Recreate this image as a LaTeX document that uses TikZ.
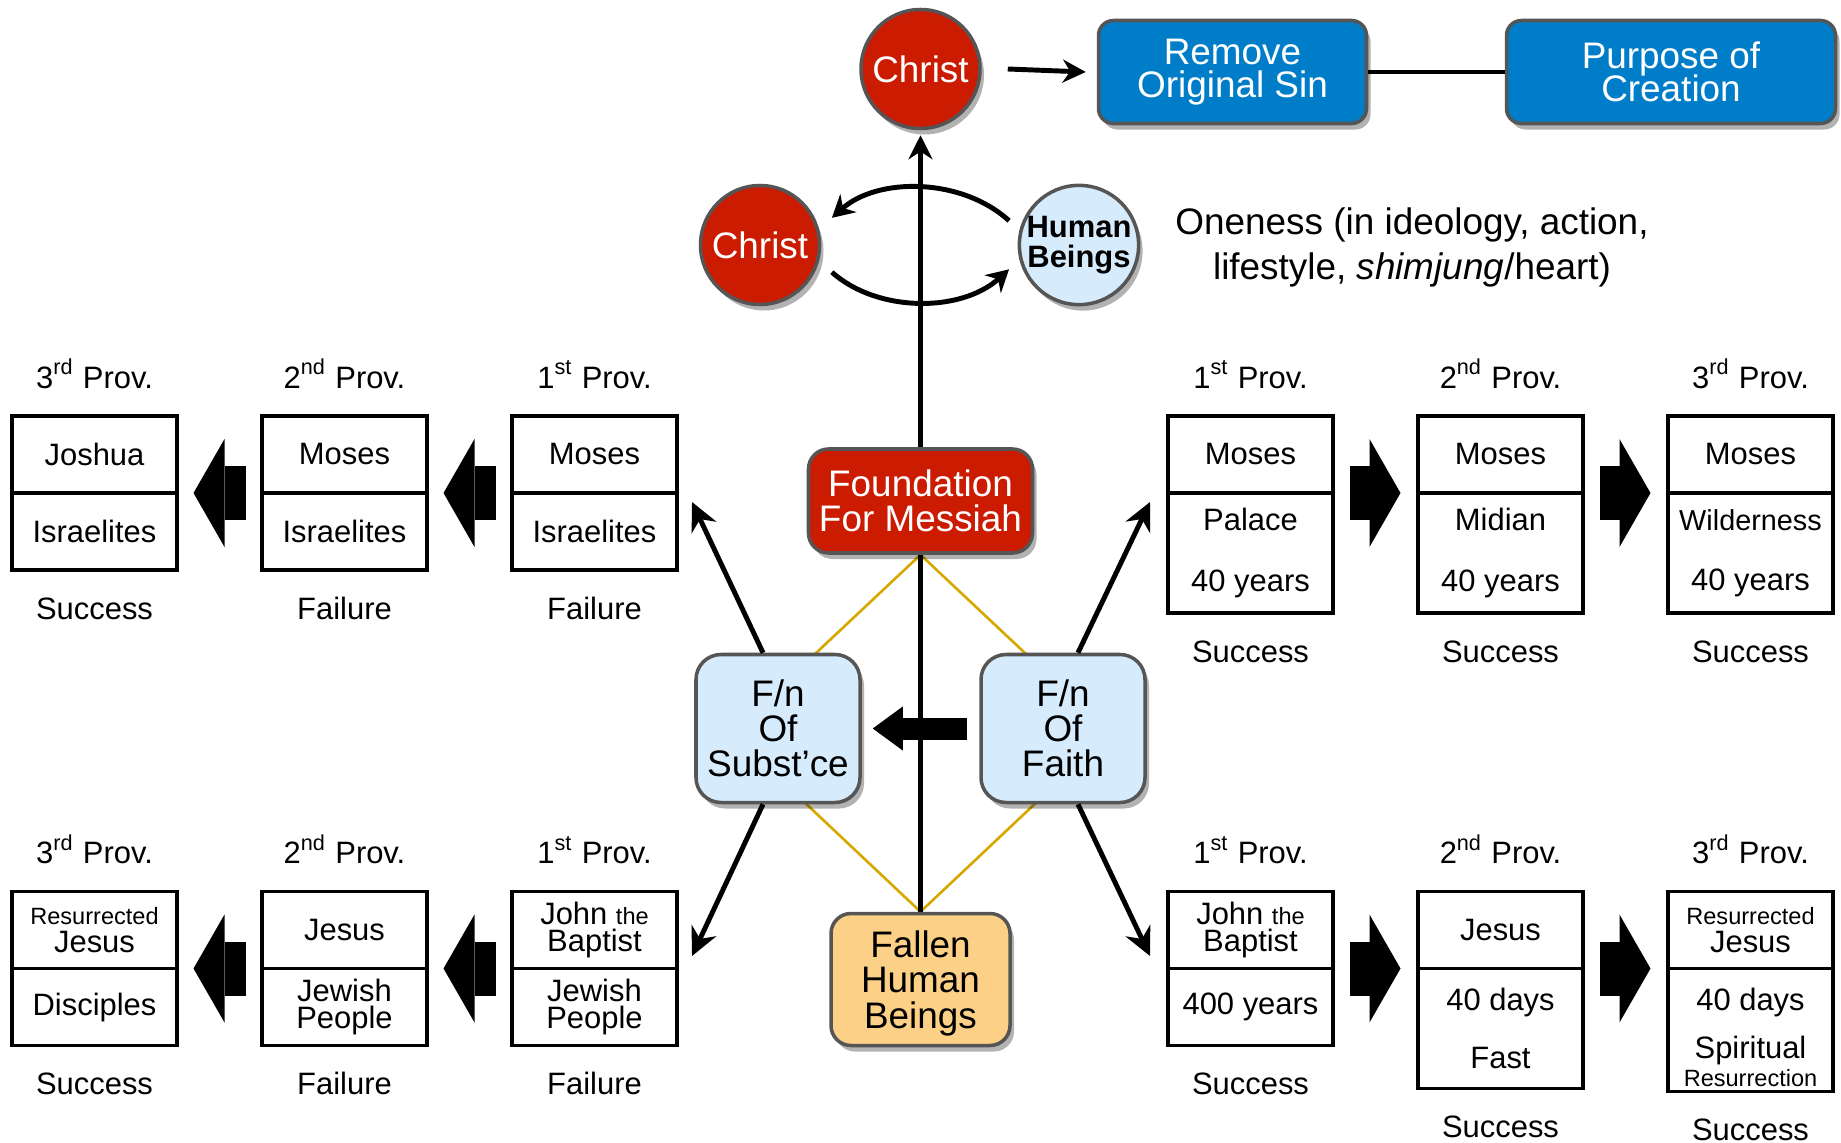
\documentclass[tikz,border=0pt]{standalone}
\usepackage{fontspec}
\setmainfont{Liberation Sans}
\usepackage{xcolor}
\usepackage{tikz}
\usetikzlibrary{shapes,arrows.meta,positioning,shadows,backgrounds}
\definecolor{fnred}{RGB}{203,27,0}
\definecolor{fnblue}{RGB}{0,125,201}
\definecolor{fnsky}{RGB}{214,235,251}
\definecolor{fnorange}{RGB}{253,208,136}
\definecolor{fnedge}{RGB}{85,85,85}
\definecolor{fngold}{RGB}{214,168,0}
\newcommand{\pfont}{\fontsize{8.8}{7.8}\selectfont\lineskiplimit=-20pt\relax}
\newcommand{\sfont}{\fontsize{6.7}{7.8}\selectfont}
\newcommand{\cfont}{\fontsize{10.5}{10}\selectfont\lineskiplimit=-20pt\relax}
\newcommand{\tfont}{\fontsize{10.5}{9.4}\selectfont\lineskiplimit=-20pt\relax}
\newcommand{\hfont}{\fontsize{8.8}{8.5}\selectfont\bfseries\lineskiplimit=-20pt\relax}
\newcommand{\ofont}{\fontsize{10.5}{12.8}\selectfont\lineskiplimit=-20pt\relax}
\tikzset{
    lift/.style={drop shadow={shadow xshift=0.4mm, shadow yshift=-0.6mm, opacity=0.3, fill=black}},
    cell/.style={rectangle, draw, line width=1.1pt, minimum width=1.65cm, minimum height=0.77cm, inner sep=0pt, outer sep=0pt, align=center, font=\pfont},
    tall/.style={cell, minimum height=1.20cm},
    lbl/.style={inner sep=0pt, anchor=base, font=\pfont},
    ball/.style={circle, draw=fnedge, line width=1pt, fill=fnred, text=white, minimum size=1.19cm, inner sep=0pt, align=center, font=\cfont, lift},
    pill/.style={rectangle, rounded corners=2mm, draw=fnedge, line width=1pt, inner sep=0pt, align=center, font=\cfont, lift},
    line/.style={draw, line width=1.4pt, -{Stealth[length=2.8mm, width=2.7mm]}},
    curve/.style={draw, line width=1.4pt, -{Stealth[length=2.2mm, width=2.4mm]}},
    fat/.style={line width=5.4mm, -{Triangle[length=3.1mm, width=10.8mm, line width=0pt]}},
    fatc/.style={line width=2.2mm, -{Triangle[length=3mm, width=4.4mm, line width=0pt]}}
}
\begin{document}
\begin{tikzpicture}[node distance=2.5cm]
    \useasboundingbox (0,0) rectangle (18.41,-11.43);

    \node[ball] (christ) at (9.205,-0.69) {Christ};
    \node[pill, fill=fnblue, text=white, font=\tfont, rounded corners=1.5mm, minimum width=2.68cm, minimum height=1.03cm] (remove) at (12.325,-0.72) {Remove\\Original Sin};
    \node[pill, fill=fnblue, text=white, font=\tfont, rounded corners=1.5mm, minimum width=3.29cm, minimum height=1.03cm] (purpose) at (16.71,-0.72) {Purpose of\\Creation};

    \node[ball] (christB) at (7.60,-2.45) {Christ};
    \node[ball, fill=fnsky, text=black, font=\hfont, minimum size=1.18cm] (human) at (10.79,-2.45) {Human\\Beings};
    \node[font=\ofont, align=center] (oneness) at (14.12,-2.47) {Oneness (in ideology, action,\\lifestyle, \textit{shimjung}/heart)};

    \node[pill, fill=fnred, text=white, minimum width=2.24cm, minimum height=1.04cm] (found) at (9.205,-5.01) {Foundation\\For Messiah};
    \node[pill, fill=fnsky, rounded corners=2.5mm, minimum width=1.64cm, minimum height=1.48cm] (subst) at (7.78,-7.285) {F/n\\Of\\Subst’ce};
    \node[pill, fill=fnsky, rounded corners=2.5mm, minimum width=1.64cm, minimum height=1.48cm] (faith) at (10.63,-7.285) {F/n\\Of\\Faith};
    \node[pill, fill=fnorange, text depth=0pt, minimum width=1.79cm, minimum height=1.32cm] (fallen) at (9.205,-9.795) {Fallen\\Human\\Beings};

    \coordinate (dl) at (7.31,-7.33);
    \coordinate (dr) at (11.10,-7.33);
    \coordinate (tipUL) at (6.92,-5.02);
    \coordinate (tipUR) at (11.50,-5.02);
    \coordinate (tipLL) at (6.92,-9.56);
    \coordinate (tipLR) at (11.50,-9.56);

    \begin{scope}[on background layer]
        \draw[fngold, line width=0.75pt] (found.south) -- (dl) -- (fallen.north) -- (dr) -- cycle;
        \draw[line, -{Stealth[length=2.4mm, width=2.4mm]}, shorten >=0.5mm] (fallen.north) -- (christ.south);
    \end{scope}

    \node[cell] (lt1a) at (5.945,-4.545) {Moses};
    \node[cell, below=0pt of lt1a] (lt1b) {Israelites};
    \node[cell, left of=lt1a] (lt2a) {Moses};
    \node[cell, below=0pt of lt2a] (lt2b) {Israelites};
    \node[cell, left of=lt2a] (lt3a) {Joshua};
    \node[cell, below=0pt of lt3a] (lt3b) {Israelites};

    \node[cell] (rt1a) at (12.505,-4.545) {Moses};
    \node[tall, below=0pt of rt1a] (rt1b) {Palace\\[3.3mm]40 years};
    \node[cell, right of=rt1a] (rt2a) {Moses};
    \node[tall, below=0pt of rt2a] (rt2b) {Midian\\[3.3mm]40 years};
    \node[cell, right of=rt2a] (rt3a) {Moses};
    \node[tall, below=0pt of rt3a] (rt3b) {{\fontsize{8.2}{7.8}\selectfont Wilderness}\\[3.3mm]40 years};

    \node[cell] (lb1a) at (5.945,-9.30) {John {\sfont the}\\Baptist};
    \node[cell, below=0pt of lb1a] (lb1b) {Jewish\\People};
    \node[cell, left of=lb1a] (lb2a) {Jesus};
    \node[cell, below=0pt of lb2a] (lb2b) {Jewish\\People};
    \node[cell, left of=lb2a] (lb3a) {{\sfont Resurrected}\\Jesus};
    \node[cell, below=0pt of lb3a] (lb3b) {Disciples};

    \node[cell] (rb1a) at (12.505,-9.30) {John {\sfont the}\\Baptist};
    \node[cell, below=0pt of rb1a] (rb1b) {400 years};
    \node[cell, right of=rb1a] (rb2a) {Jesus};
    \node[tall, below=0pt of rb2a] (rb2b) {40 days\\[3.1mm]Fast};
    \node[cell, right of=rb2a] (rb3a) {{\sfont Resurrected}\\Jesus};
    \node[tall, below=0pt of rb3a, minimum height=1.23cm, text height=32pt, text depth=0pt] (rb3b) {40 days\\[2.1mm]Spiritual\\{\sfont Resurrection}};

    \node[lbl] (lt1h) at ([yshift=2.8mm]lt1a.north) {1\textsuperscript{st} Prov.};
    \node[lbl] (lt2h) at ([yshift=2.8mm]lt2a.north) {2\textsuperscript{nd} Prov.};
    \node[lbl] (lt3h) at ([yshift=2.8mm]lt3a.north) {3\textsuperscript{rd} Prov.};
    \node[lbl] (rt1h) at ([yshift=2.8mm]rt1a.north) {1\textsuperscript{st} Prov.};
    \node[lbl] (rt2h) at ([yshift=2.8mm]rt2a.north) {2\textsuperscript{nd} Prov.};
    \node[lbl] (rt3h) at ([yshift=2.8mm]rt3a.north) {3\textsuperscript{rd} Prov.};
    \node[lbl] (lb1h) at ([yshift=2.8mm]lb1a.north) {1\textsuperscript{st} Prov.};
    \node[lbl] (lb2h) at ([yshift=2.8mm]lb2a.north) {2\textsuperscript{nd} Prov.};
    \node[lbl] (lb3h) at ([yshift=2.8mm]lb3a.north) {3\textsuperscript{rd} Prov.};
    \node[lbl] (rb1h) at ([yshift=2.8mm]rb1a.north) {1\textsuperscript{st} Prov.};
    \node[lbl] (rb2h) at ([yshift=2.8mm]rb2a.north) {2\textsuperscript{nd} Prov.};
    \node[lbl] (rb3h) at ([yshift=2.8mm]rb3a.north) {3\textsuperscript{rd} Prov.};

    \node[lbl] (lt1r) at ([yshift=-4.9mm]lt1b.south) {Failure};
    \node[lbl] (lt2r) at ([yshift=-4.9mm]lt2b.south) {Failure};
    \node[lbl] (lt3r) at ([yshift=-4.9mm]lt3b.south) {Success};
    \node[lbl] (rt1r) at ([yshift=-4.9mm]rt1b.south) {Success};
    \node[lbl] (rt2r) at ([yshift=-4.9mm]rt2b.south) {Success};
    \node[lbl] (rt3r) at ([yshift=-4.9mm]rt3b.south) {Success};
    \node[lbl] (lb1r) at ([yshift=-4.9mm]lb1b.south) {Failure};
    \node[lbl] (lb2r) at ([yshift=-4.9mm]lb2b.south) {Failure};
    \node[lbl] (lb3r) at ([yshift=-4.9mm]lb3b.south) {Success};
    \node[lbl] (rb1r) at ([yshift=-4.9mm]rb1b.south) {Success};
    \node[lbl] (rb2r) at ([yshift=-4.9mm]rb2b.south) {Success};
    \node[lbl] (rb3r) at ([yshift=-4.9mm]rb3b.south) {Success};

    \draw[fat] ([xshift=-1.6mm]lt1b.north west) -- ([xshift=1.65mm]lt2b.north east);
    \draw[fat] ([xshift=-1.6mm]lt2b.north west) -- ([xshift=1.65mm]lt3b.north east);
    \draw[fat] ([xshift=1.7mm]rt1b.north east) -- ([xshift=-1.75mm]rt2b.north west);
    \draw[fat] ([xshift=1.7mm]rt2b.north east) -- ([xshift=-1.75mm]rt3b.north west);
    \draw[fat] ([xshift=-1.6mm]lb1b.north west) -- ([xshift=1.65mm]lb2b.north east);
    \draw[fat] ([xshift=-1.6mm]lb2b.north west) -- ([xshift=1.65mm]lb3b.north east);
    \draw[fat] ([xshift=1.7mm]rb1b.north east) -- ([xshift=-1.75mm]rb2b.north west);
    \draw[fat] ([xshift=1.7mm]rb2b.north east) -- ([xshift=-1.75mm]rb3b.north west);
    \draw[fatc] ([xshift=-1.2mm]faith.west) -- ([xshift=1.1mm]subst.east);

    \draw[line] ([xshift=-1.5mm]subst.north) -- (tipUL);
    \draw[line] ([xshift=-1.5mm]subst.south) -- (tipLL);
    \draw[line] ([xshift=1.5mm]faith.north) -- (tipUR);
    \draw[line] ([xshift=1.5mm]faith.south) -- (tipLR);

    \draw[line, -{Stealth[length=2.3mm, width=2.3mm]}] ([xshift=2.6mm]christ.east) -- ([xshift=-1.1mm]remove.west);
    \draw[line width=1.4pt] (remove) -- (purpose);

    \draw[curve, shorten <=1.4mm, shorten >=1.7mm] (human.166) to[bend right=42] (christB.15);
    \draw[curve, shorten <=1.7mm, shorten >=1.4mm] (christB.-15) to[bend right=42] (human.194);
\end{tikzpicture}
\end{document}
